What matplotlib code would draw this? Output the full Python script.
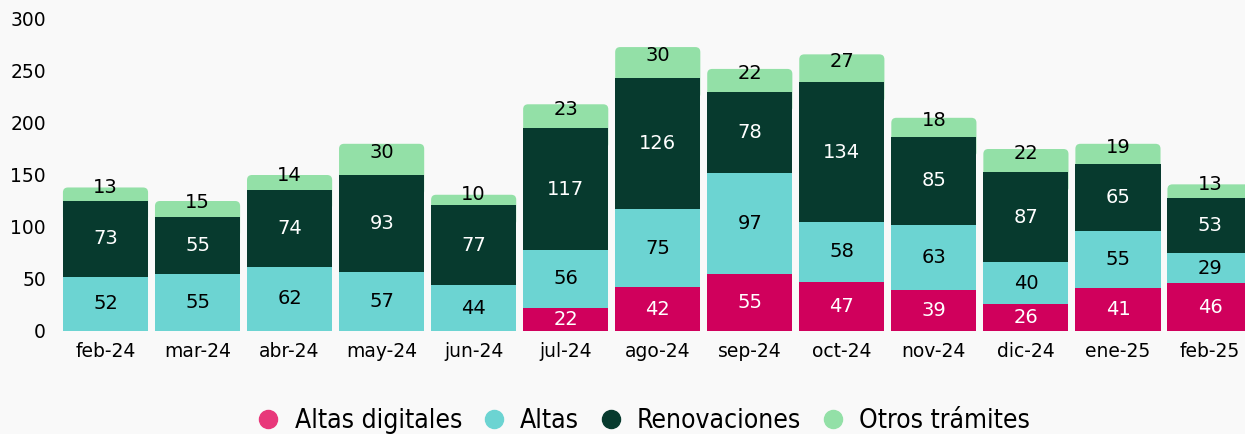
import numpy as np
import matplotlib.pyplot as plt
from matplotlib.patches import FancyBboxPatch
from matplotlib.lines import Line2D

months = ['feb-24', 'mar-24', 'abr-24', 'may-24', 'jun-24', 'jul-24', 'ago-24',
          'sep-24', 'oct-24', 'nov-24', 'dic-24', 'ene-25', 'feb-25']
altas_digitales = [0, 0, 0, 0, 0, 22, 42, 55, 47, 39, 26, 41, 46]
altas = [52, 55, 62, 57, 44, 56, 75, 97, 58, 63, 40, 55, 29]
renovaciones = [73, 55, 74, 93, 77, 117, 126, 78, 134, 85, 87, 65, 53]
otros = [13, 15, 14, 30, 10, 23, 30, 22, 27, 18, 22, 19, 13]

c_dig = '#d0005c'
c_dig_leg = '#e8377a'
c_alt = '#6cd4d2'
c_ren = '#073a2e'
c_otr = '#93e0a7'
bg = '#f9f9f9'

W, H = 1245, 434
fig = plt.figure(figsize=(W / 100, H / 100), dpi=100, facecolor=bg)
ax = fig.add_axes([55 / W, (H - 331) / H, (W - 55) / W, 312 / H])
ax.set_facecolor(bg)

x = np.arange(len(months))
bw = 0.925
dig = np.array(altas_digitales)
alt = np.array(altas)
ren = np.array(renovaciones)
otr = np.array(otros)

base_otr = dig + alt + ren
top = base_otr + otr

# top segment with rounded corners; extended down so only top corners show
px_x = 92.04  # pixels per x unit
px_y = 1.04   # pixels per y unit
r = 5.0 / px_x
for i in range(len(x)):
    y0 = base_otr[i] - 20
    p = FancyBboxPatch((x[i] - bw / 2, y0), bw, top[i] - y0,
                       boxstyle='round,pad=0,rounding_size=%f' % r,
                       mutation_aspect=px_x / px_y,
                       fc=c_otr, ec='none', zorder=1)
    ax.add_patch(p)

ax.bar(x, dig, bw, color=c_dig, zorder=2)
ax.bar(x, alt, bw, bottom=dig, color=c_alt, zorder=2)
ax.bar(x, ren, bw, bottom=dig + alt, color=c_ren, zorder=2)

fs = 14
for i in range(len(x)):
    if dig[i] > 0:
        ax.text(x[i], dig[i] / 2, str(dig[i]), ha='center', va='center',
                color='white', fontsize=fs, zorder=3)
    ax.text(x[i], dig[i] + alt[i] / 2, str(alt[i]), ha='center', va='center',
            color='black', fontsize=fs, zorder=3)
    ax.text(x[i], dig[i] + alt[i] + ren[i] / 2, str(ren[i]), ha='center',
            va='center', color='white', fontsize=fs, zorder=3)
    yl = top[i] - max(0, otr[i] - 12) * 0.45
    ax.text(x[i], yl, str(otr[i]), ha='center', va='center',
            color='black', fontsize=fs, zorder=3)

ax.set_xlim(-(105.5 - 55) / px_x, 12 + 35 / px_x)
ax.set_ylim(0, 300)
ax.set_xticks(x)
ax.set_xticklabels(months)
ax.set_yticks([0, 50, 100, 150, 200, 250, 300])
ax.tick_params(length=0, labelsize=13.5, colors='black')
ax.tick_params(axis='y', pad=6.5)
ax.tick_params(axis='x', pad=8)
for s in ax.spines.values():
    s.set_visible(False)

handles = [Line2D([], [], marker='o', ls='', ms=13, color=c) for c in
           [c_dig_leg, c_alt, c_ren, c_otr]]
labels = ['Altas digitales', 'Altas', 'Renovaciones', 'Otros trámites']
fig.legend(handles, labels, loc='center', bbox_to_anchor=(636 / W, (H - 421) / H),
           ncol=4, frameon=False, handletextpad=0.0, columnspacing=0.2,
           prop={'family': 'DejaVu Sans', 'stretch': 'condensed', 'size': 19})

fig.savefig('out.png', dpi=100, facecolor=bg)
